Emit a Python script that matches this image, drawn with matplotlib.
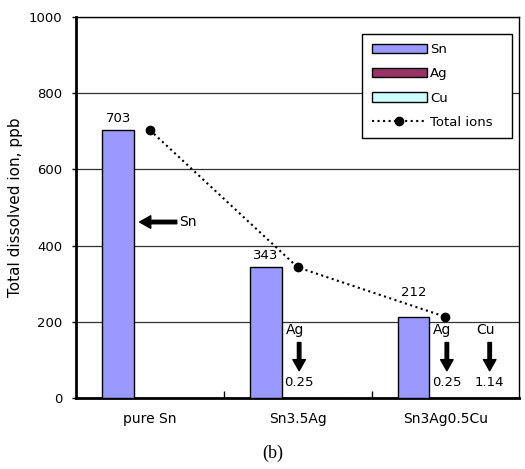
import numpy as np
import matplotlib.pyplot as plt
from matplotlib.lines import Line2D
from matplotlib.patches import Patch

# dissolved ion concentration (ppb) per solder alloy
alloys = ['pure Sn', 'Sn3.5Ag', 'Sn3Ag0.5Cu']
sn = [703, 343, 212]
ag = [0, 0.25, 0.25]
cu = [0, 0, 1.14]
total = [s + a + c for s, a, c in zip(sn, ag, cu)]

plt.rcParams['font.family'] = ['DejaVu Sans']

fig = plt.figure(figsize=(5.25, 4.69), dpi=100)
ax = fig.add_axes([0.145, 0.151, 0.844, 0.813])

x = np.arange(len(alloys))
w = 0.216
ax.bar(x - w, sn, w, color='#9999FF', edgecolor='black', lw=1, zorder=3)
ax.bar(x, ag, w, color='#993366', edgecolor='black', lw=1, zorder=3)
ax.bar(x + w, cu, w, color='#CCFFFF', edgecolor='black', lw=1, zorder=3)
ax.plot(x, total, ls=':', color='black', lw=1.5, marker='o', ms=6, zorder=4)

# Sn value labels above the bars
offs = [4, 4, 13]
for i, v in enumerate(sn):
    ax.annotate('%d' % v, (x[i] - w, v), xytext=(0, offs[i]), textcoords='offset points',
                ha='center', va='bottom', fontsize=9.5)

# arrows marking the dissolved species
arr = dict(facecolor='black', edgecolor='black', width=2.5, headwidth=9, headlength=8, shrink=0)
ax.annotate('Sn', xy=(-0.07, 462), xytext=(0.2, 462), ha='left', va='center',
            fontsize=10, arrowprops=arr)

def down_arrow(xc, name, val):
    ax.annotate('', xy=(xc, 72), xytext=(xc, 146), arrowprops=arr)
    ax.text(xc - 0.03, 178, name, ha='center', va='center', fontsize=10)
    ax.text(xc, 41, '%.2f' % val, ha='center', va='center', fontsize=9.5)

down_arrow(x[1] + 0.01, 'Ag', ag[1])
down_arrow(x[2] + 0.01, 'Ag', ag[2])
down_arrow(x[2] + 0.3, 'Cu', cu[2])

ax.set_xlim(-0.5, 2.5)
ax.set_ylim(0, 1000)
ax.set_yticks(range(0, 1001, 200))
ax.set_xticks(x)
ax.set_xticklabels(alloys)
ax.set_xticks([0.5, 1.5], minor=True)
ax.tick_params(axis='x', which='major', length=0, pad=10, labelsize=10)
ax.tick_params(axis='x', which='minor', direction='in', length=5, width=1)
ax.tick_params(axis='y', length=3, width=1, pad=7, labelsize=9.5)
ax.yaxis.grid(True, color='#333333', lw=0.9, zorder=0)
ax.set_axisbelow(True)
for side in ['left', 'bottom']:
    ax.spines[side].set_linewidth(2)
for side in ['top', 'right']:
    ax.spines[side].set_linewidth(1)

ax.set_ylabel('Total dissolved ion, ppb', fontsize=11)
ax.yaxis.set_label_coords(-0.12, 0.5)

handles = [Patch(facecolor='#9999FF', edgecolor='black'),
           Patch(facecolor='#993366', edgecolor='black'),
           Patch(facecolor='#CCFFFF', edgecolor='black'),
           Line2D([], [], ls=':', color='black', lw=1.5, marker='o', ms=6)]
leg = ax.legend(handles, ['Sn', 'Ag', 'Cu', 'Total ions'], loc='upper left',
                bbox_to_anchor=(0.646, 0.685, 0.338, 0.27), mode='expand',
                borderaxespad=0, fontsize=9.5,
                handlelength=4.2, handletextpad=0.25, labelspacing=0.85,
                fancybox=False, framealpha=1, edgecolor='black', numpoints=1,
                borderpad=0.7)
leg.get_frame().set_linewidth(1)

fig.text(273 / 525, 1 - 453 / 469, '(b)', family='Liberation Serif', fontsize=13,
         ha='center', va='center')

fig.savefig('out.png', dpi=100)
